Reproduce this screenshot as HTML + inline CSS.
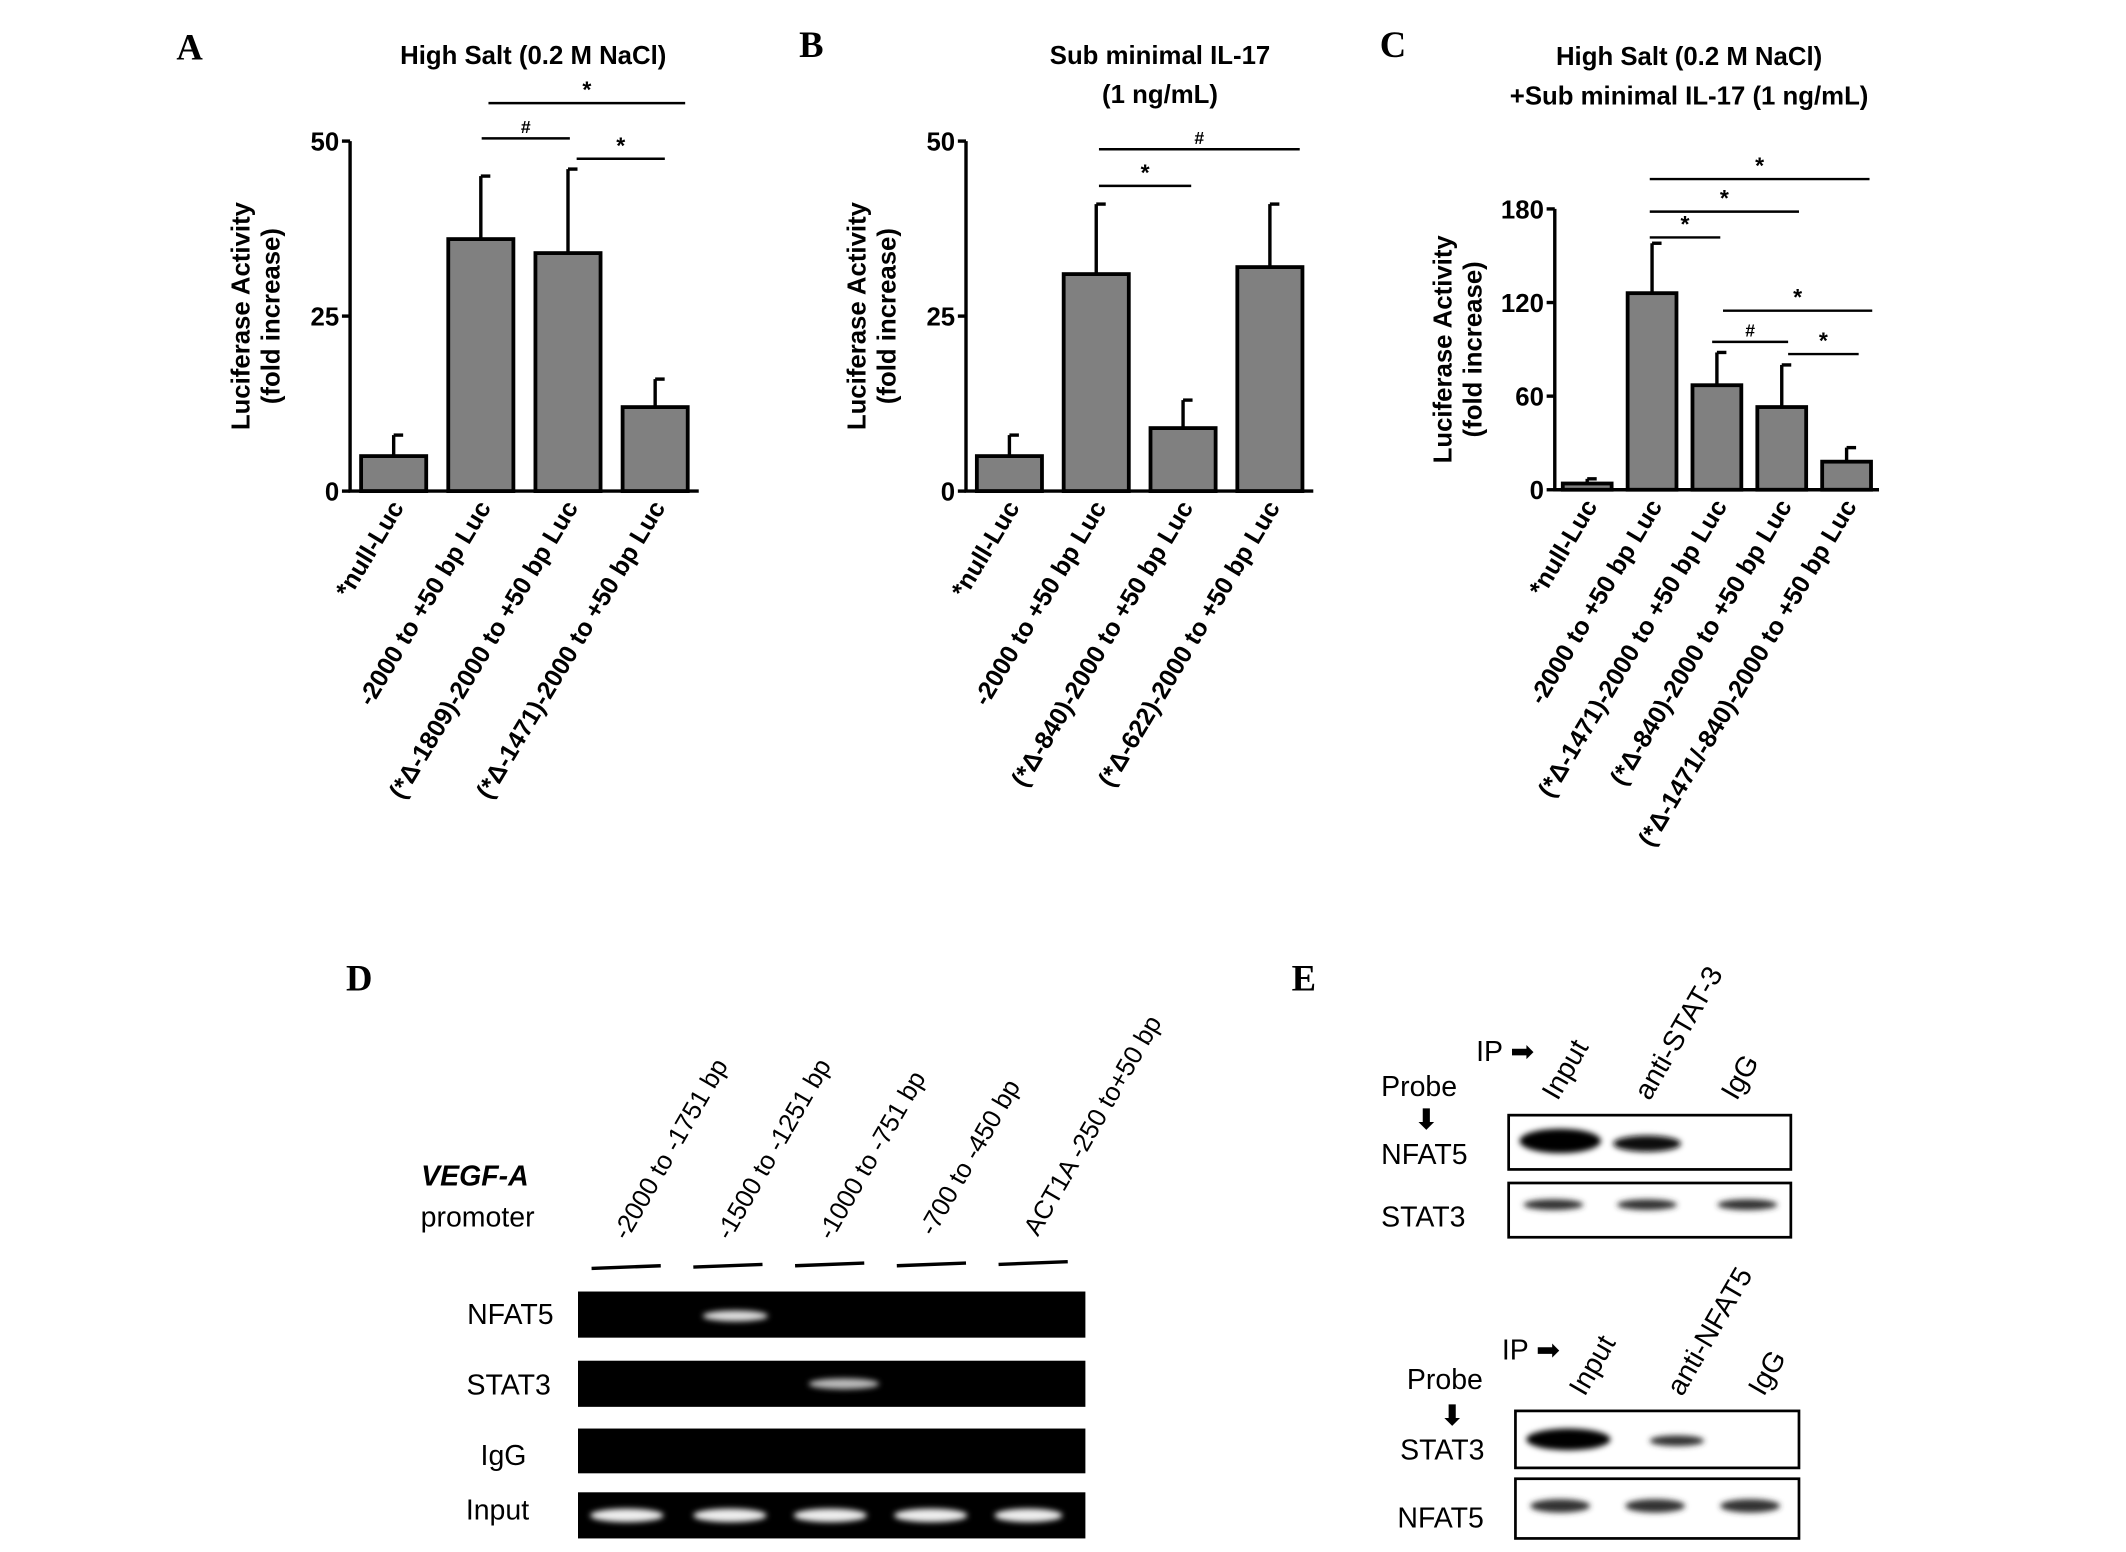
<!DOCTYPE html>
<html><head><meta charset="utf-8"><style>
html,body{margin:0;padding:0;background:#fff}
svg{display:block}
text{font-family:"Liberation Sans",Arial,sans-serif;font-weight:bold;fill:#000}
.let{font-family:"Liberation Serif",serif;font-size:27px}
</style></head><body>
<svg id="fig" width="2126" height="1552" viewBox="0 0 1567 1144" xmlns="http://www.w3.org/2000/svg">
<defs>
<filter id="blur" x="-50%" y="-100%" width="200%" height="300%"><feGaussianBlur stdDeviation="2.2"/></filter>
</defs>
<g id="charts"></g>

<!-- Panel D -->
<g>
<text class="let" x="255" y="730">D</text>
<text x="350" y="874" font-size="21" font-style="italic" text-anchor="middle">VEGF-A</text>
<text x="352" y="904" font-size="21" text-anchor="middle" style="font-weight:normal">promoter</text>
<g font-size="19">
<text transform="translate(462,915) rotate(-60)" style="font-weight:normal">-2000 to -1751 bp</text>
<text transform="translate(538,915) rotate(-60)" style="font-weight:normal">-1500 to -1251 bp</text>
<text transform="translate(613,915) rotate(-60)" style="font-weight:normal">-1000 to -751 bp</text>
<text transform="translate(688,912) rotate(-60)" style="font-weight:normal">-700 to -450 bp</text>
<text transform="translate(765,912) rotate(-60)" style="font-weight:normal">ACT1A -250 to+50 bp</text>
</g>
<g stroke="#000" stroke-width="2.5">
<line x1="436" y1="935" x2="487" y2="933"/><line x1="511" y1="934" x2="562" y2="932"/><line x1="586" y1="933" x2="637" y2="931"/><line x1="661" y1="933" x2="712" y2="931"/><line x1="736" y1="932" x2="787" y2="930"/>
</g>
<g font-size="21" text-anchor="end">
<text x="408" y="976" style="font-weight:normal">NFAT5</text>
<text x="406" y="1028" style="font-weight:normal">STAT3</text>
<text x="388" y="1080" style="font-weight:normal">IgG</text>
<text x="390" y="1120" style="font-weight:normal">Input</text>
</g>
<rect x="426" y="952" width="374" height="34" fill="#000"/>
<rect x="426" y="1003" width="374" height="34" fill="#000"/>
<rect x="426" y="1053" width="374" height="33" fill="#000"/>
<rect x="426" y="1100" width="374" height="34" fill="#000"/>
<ellipse cx="542" cy="970" rx="24" ry="4" fill="#ddd" filter="url(#blur)"/>
<ellipse cx="622" cy="1020" rx="26" ry="4" fill="#bbb" filter="url(#blur)"/>
<g fill="#eee" filter="url(#blur)">
<ellipse cx="462" cy="1117" rx="27" ry="5"/><ellipse cx="538" cy="1117" rx="27" ry="5"/><ellipse cx="612" cy="1117" rx="27" ry="5"/><ellipse cx="686" cy="1117" rx="27" ry="5"/><ellipse cx="758" cy="1117" rx="25" ry="5"/>
</g>
</g>

<!-- Panel E -->
<g>
<text class="let" x="952" y="730">E</text>
<text x="1088" y="782" font-size="21" style="font-weight:normal">IP ➡</text>
<text x="1018" y="808" font-size="21" style="font-weight:normal">Probe</text>
<text x="1043" y="832" font-size="20">⬇</text>
<text transform="translate(1148,812) rotate(-60)" font-size="21" style="font-weight:normal">Input</text>
<text transform="translate(1216,812) rotate(-60)" font-size="21" style="font-weight:normal">anti-STAT-3</text>
<text transform="translate(1280,812) rotate(-60)" font-size="21" style="font-weight:normal">IgG</text>
<text x="1018" y="858" font-size="21" style="font-weight:normal">NFAT5</text>
<text x="1018" y="904" font-size="21" style="font-weight:normal">STAT3</text>
<rect x="1112" y="822" width="208" height="40" fill="#fff" stroke="#000" stroke-width="2"/>
<rect x="1112" y="872" width="208" height="40" fill="#fff" stroke="#000" stroke-width="2"/>
<ellipse cx="1150" cy="841" rx="30" ry="9" fill="#000" filter="url(#blur)"/>
<ellipse cx="1214" cy="843" rx="25" ry="6" fill="#111" filter="url(#blur)"/>
<g fill="#333" filter="url(#blur)"><ellipse cx="1145" cy="888" rx="22" ry="4"/><ellipse cx="1214" cy="888" rx="22" ry="4"/><ellipse cx="1288" cy="888" rx="22" ry="4"/></g>

<text x="1107" y="1002" font-size="21" style="font-weight:normal">IP ➡</text>
<text x="1037" y="1024" font-size="21" style="font-weight:normal">Probe</text>
<text x="1062" y="1050" font-size="20">⬇</text>
<text transform="translate(1168,1030) rotate(-60)" font-size="21" style="font-weight:normal">Input</text>
<text transform="translate(1240,1030) rotate(-60)" font-size="21" style="font-weight:normal">anti-NFAT5</text>
<text transform="translate(1300,1030) rotate(-60)" font-size="21" style="font-weight:normal">IgG</text>
<text x="1032" y="1076" font-size="21" style="font-weight:normal">STAT3</text>
<text x="1030" y="1126" font-size="21" style="font-weight:normal">NFAT5</text>
<rect x="1117" y="1040" width="209" height="42" fill="#fff" stroke="#000" stroke-width="2"/>
<rect x="1117" y="1090" width="209" height="44" fill="#fff" stroke="#000" stroke-width="2"/>
<ellipse cx="1156" cy="1061" rx="31" ry="8" fill="#000" filter="url(#blur)"/>
<ellipse cx="1236" cy="1062" rx="20" ry="4" fill="#333" filter="url(#blur)"/>
<g fill="#333" filter="url(#blur)"><ellipse cx="1150" cy="1110" rx="22" ry="5"/><ellipse cx="1220" cy="1110" rx="22" ry="5"/><ellipse cx="1290" cy="1110" rx="22" ry="5"/></g>
</g>
</svg>
<script>
// Panel A data
const catsA = ["*null-Luc","-2000 to +50 bp Luc","(*Δ-1809)-2000 to +50 bp Luc","(*Δ-1471)-2000 to +50 bp Luc"];
const valsA = [5, 36, 34, 12];
const errA = [3, 9, 12, 4];
const ticksA = [0, 25, 50];
// Panel B data
const catsB = ["*null-Luc","-2000 to +50 bp Luc","(*Δ-840)-2000 to +50 bp Luc","(*Δ-622)-2000 to +50 bp Luc"];
const valsB = [5, 31, 9, 32];
const errB = [3, 10, 4, 9];
const ticksB = [0, 25, 50];
// Panel C data
const catsC = ["*null-Luc","-2000 to +50 bp Luc","(*Δ-1471)-2000 to +50 bp Luc","(*Δ-840)-2000 to +50 bp Luc","(*Δ-1471/-840)-2000 to +50 bp Luc"];
const valsC = [4, 126, 67, 53, 18];
const errC = [3, 32, 21, 27, 9];
const ticksC = [0, 60, 120, 180];

const NS = "http://www.w3.org/2000/svg";
const root = document.getElementById('charts');
function mk(tag, attrs, parent){const e=document.createElementNS(NS,tag);for(const k in attrs)e.setAttribute(k,attrs[k]);(parent||root).appendChild(e);return e;}

function chart(cfg){
  const g = mk('g',{});
  
  
  const {x0,x1,y0,y1,max,cats,vals,errs,ticks,bw} = cfg;
  const y = v => y0 - (v/max)*(y0-y1);
  const step = (x1-x0)/cats.length;
  const xc = i => x0 + step*(i+0.5);
  cfg.title.forEach((t,i)=>{const tt=mk('text',{x:cfg.tx,y:cfg.ty+i*29,'font-size':19,'text-anchor':'middle'},g);tt.textContent=t;
    
    });
  const L=mk('text',{x:cfg.lx,y:cfg.ly,class:'let'},g);L.textContent=cfg.letter;
  
  
  cats.forEach((c,i)=>{
    const yt=y(vals[i]), ye=y(vals[i]+errs[i]);
    const el=mk('line',{x1:xc(i),x2:xc(i),y1:yt,y2:ye,stroke:'#000','stroke-width':2.5},g);
    
    
    const cap=mk('line',{x1:xc(i),x2:xc(i)+7,y1:ye,y2:ye,stroke:'#000','stroke-width':2.5},g);
    
    
    const r=mk('rect',{x:xc(i)-bw/2,y:yt,width:bw,height:y0-yt,fill:'#808080',stroke:'#000','stroke-width':2.8},g);
    
    
    const lab=mk('text',{transform:`translate(${xc(i)+8},${y0+12}) rotate(-59)`,'font-size':18.5,'text-anchor':'end'},g);
    lab.textContent=c;
    
    
  });
  const ax=mk('path',{d:`M${x0},${y1} V${y0} H${x1}`,fill:'none',stroke:'#000','stroke-width':2.5},g);
  
  
  ticks.forEach(t=>{
    mk('line',{x1:x0-6,x2:x0,y1:y(t),y2:y(t),stroke:'#000','stroke-width':2.5},g);
    const tl=mk('text',{x:x0-8,y:y(t)+7,'font-size':19,'text-anchor':'end'},g);tl.textContent=t;
    
    
  });
  const yl=mk('text',{transform:`translate(${cfg.ylx},${(y0+y1)/2}) rotate(-90)`,'font-size':19,'text-anchor':'middle'},g);
  yl.textContent='Luciferase Activity';
  
  
  const yl2=mk('text',{transform:`translate(${cfg.ylx+22},${(y0+y1)/2}) rotate(-90)`,'font-size':19,'text-anchor':'middle'},g);
  yl2.textContent='(fold increase)';
  
  
  cfg.sig.forEach(s=>{
    const l=mk('line',{x1:s[0],x2:s[1],y1:s[2],y2:s[2],stroke:'#000','stroke-width':1.8},g);
    
    
    const st=mk('text',{x:(s[0]+s[1])/2,y:s[2]-4,'font-size':s[3]=='#'?13:17,'text-anchor':'middle'},g);st.textContent=s[3];
    
    
  });
}
chart({name:'chart-a',letter:'A',lx:130,ly:44,title:['High Salt (0.2 M NaCl)'],tx:393,ty:47,x0:258,x1:515,y0:362,y1:104,max:50,cats:catsA,vals:valsA,errs:errA,ticks:ticksA,bw:48,ylx:184,
 sig:[[360,505,76,'*'],[355,420,102,'#'],[425,490,117,'*']]});
chart({name:'chart-b',letter:'B',lx:589,ly:42,title:['Sub minimal IL-17','(1 ng/mL)'],tx:855,ty:47,x0:712,x1:968,y0:362,y1:104,max:50,cats:catsB,vals:valsB,errs:errB,ticks:ticksB,bw:48,ylx:638,
 sig:[[810,958,110,'#'],[810,878,137,'*']]});
chart({name:'chart-c',letter:'C',lx:1017,ly:42,title:['High Salt (0.2 M NaCl)','+Sub minimal IL-17 (1 ng/mL)'],tx:1245,ty:48,x0:1146,x1:1385,y0:361,y1:154,max:180,cats:catsC,vals:valsC,errs:errC,ticks:ticksC,bw:36,ylx:1070,
 sig:[[1216,1378,132,'*'],[1216,1326,156,'*'],[1216,1268,175,'*'],[1270,1380,229,'*'],[1262,1318,252,'#'],[1318,1370,261,'*']]});
</script>
</body></html>
